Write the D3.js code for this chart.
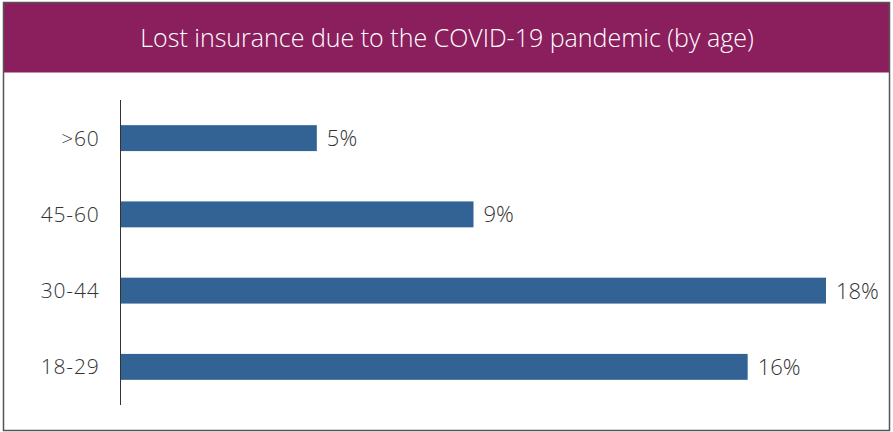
<!DOCTYPE html>
<html>
<head>
<meta charset="utf-8">
<script src="https://cdn.jsdelivr.net/npm/d3@7"></script>
<style>
  html, body { margin: 0; padding: 0; background: #fff; }
  svg { display: block; }
</style>
</head>
<body>
<svg id="chart" width="893" height="432"></svg>
<script>
// Chart data
const title = "Lost insurance due to the COVID-19 pandemic (by age)";
const ageGroups = [">60", "45-60", "30-44", "18-29"];
const lostPct = [5, 9, 18, 16];

const W = 893, H = 432;
const frame = { left: 3.5, top: 2.5, right: 889.5, bottom: 430.5 };
const headerH = 70;
const plot = { left: 121, top: 100, bottom: 405 };

const svg = d3.select("#chart");
const font = "'Open Sans', Lato, sans-serif";

// Header band
svg.append("rect")
  .attr("x", frame.left).attr("y", frame.top)
  .attr("width", frame.right - frame.left).attr("height", headerH)
  .attr("fill", "#8b1f5e");

svg.append("text")
  .attr("x", 447)
  .attr("y", 47)
  .attr("text-anchor", "middle")
  .attr("fill", "#ffffff")
  .style("font-family", font)
  .style("font-size", "25px")
  .style("font-weight", 350)
  .text(title);

// Outer frame
svg.append("rect")
  .attr("x", frame.left).attr("y", frame.top)
  .attr("width", frame.right - frame.left).attr("height", frame.bottom - frame.top)
  .attr("fill", "none")
  .attr("stroke", "#555")
  .attr("stroke-width", 1.5);

// Scales
const x = d3.scaleLinear().domain([0, 18]).range([plot.left, 826]);
const y = d3.scaleBand().domain(ageGroups).range([100, 405]).paddingInner(0.66).paddingOuter(0.33);

const data = ageGroups.map((g, i) => ({ group: g, value: lostPct[i] }));

// Bars
svg.append("g").selectAll("rect")
  .data(data).join("rect")
  .attr("x", x(0))
  .attr("y", d => y(d.group))
  .attr("width", d => x(d.value) - x(0))
  .attr("height", y.bandwidth())
  .attr("fill", "#336394");

// Value labels
svg.append("g").selectAll("text")
  .data(data).join("text")
  .attr("x", d => x(d.value) + 10)
  .attr("y", d => y(d.group) + y.bandwidth() / 2)
  .attr("dy", "0.36em")
  .attr("fill", "#333")
  .style("font-family", font)
  .style("font-size", "22px")
  .style("font-weight", 350)
  .text(d => d.value + "%");

// Category axis
const yAxis = d3.axisLeft(y).tickSize(0).tickPadding(21);
const ag = svg.append("g")
  .attr("transform", `translate(${plot.left - 0.5},0)`)
  .call(yAxis);
ag.select(".domain").remove();
ag.selectAll("text")
  .attr("fill", "#333")
  .attr("dy", "0.36em")
  .style("font-family", font)
  .style("font-size", "21px")
  .style("font-weight", 350)
  .style("letter-spacing", "0.8px");

svg.append("line")
  .attr("x1", plot.left - 0.5).attr("x2", plot.left - 0.5)
  .attr("y1", plot.top).attr("y2", plot.bottom)
  .attr("stroke", "#333").attr("stroke-width", 1);
</script>
</body>
</html>
